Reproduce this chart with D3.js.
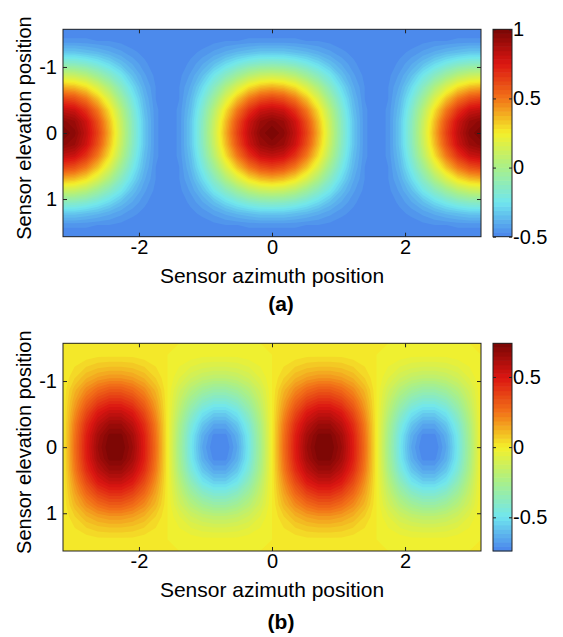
<!DOCTYPE html>
<html>
<head>
<meta charset="utf-8">
<script src="https://cdn.jsdelivr.net/npm/d3@7"></script>
<style>
  body { margin: 0; background: #fff; }
  svg { display: block; }
  text { font-family: "Liberation Sans", Arial, Helvetica, sans-serif; fill: #000; }
</style>
</head>
<body>
<svg id="chart" width="563" height="637"></svg>
<script>
// ---------------- DATA ----------------
// grid sample positions (degrees)
const azimuthDeg = [-180,-170,-160,-150,-140,-130,-120,-110,-100,-90,-80,-70,-60,-50,-40,-30,-20,-10,0,
                    10,20,30,40,50,60,70,80,90,100,110,120,130,140,150,160,170,180];
const elevationDeg = [-90,-80,-70,-60,-50,-40,-30,-20,-10,0,10,20,30,40,50,60,70,80,90];

const xTicks = [-2, 0, 2];
const yTicks = [-1, 0, 1];
const cbTicksA = [-0.5, 0, 0.5, 1];
const cbTicksB = [-0.5, 0, 0.5];
const cbDomainA = [-0.5, 1];
const cbDomainB = [-0.74, 0.74];
const panelLabels = ["(a)", "(b)"];
const xTitle = "Sensor azimuth position";
const yTitle = "Sensor elevation position";

// panel (a) values, rows = elevation (top -> bottom), columns = azimuth
const valuesA = [
[-.5,-.5,-.5,-.5,-.5,-.5,-.5,-.5,-.5,-.5,-.5,-.5,-.5,-.5,-.5,-.5,-.5,-.5,-.5,-.5,-.5,-.5,-.5,-.5,-.5,-.5,-.5,-.5,-.5,-.5,-.5,-.5,-.5,-.5,-.5,-.5,-.5],
[-.46,-.46,-.46,-.47,-.47,-.48,-.49,-.5,-.5,-.5,-.5,-.5,-.49,-.48,-.47,-.47,-.46,-.46,-.46,-.46,-.46,-.47,-.47,-.48,-.49,-.5,-.5,-.5,-.5,-.5,-.49,-.48,-.47,-.47,-.46,-.46,-.46],
[-.33,-.33,-.35,-.37,-.4,-.43,-.46,-.48,-.5,-.5,-.5,-.48,-.46,-.43,-.4,-.37,-.35,-.33,-.33,-.33,-.35,-.37,-.4,-.43,-.46,-.48,-.5,-.5,-.5,-.48,-.46,-.43,-.4,-.37,-.35,-.33,-.33],
[-.13,-.14,-.17,-.22,-.28,-.35,-.41,-.46,-.49,-.5,-.49,-.46,-.41,-.35,-.28,-.22,-.17,-.14,-.13,-.14,-.17,-.22,-.28,-.35,-.41,-.46,-.49,-.5,-.49,-.46,-.41,-.35,-.28,-.22,-.17,-.14,-.13],
[.12,.1,.05,-.04,-.14,-.24,-.35,-.43,-.48,-.5,-.48,-.43,-.35,-.24,-.14,-.04,.05,.1,.12,.1,.05,-.04,-.14,-.24,-.35,-.43,-.48,-.5,-.48,-.43,-.35,-.24,-.14,-.04,.05,.1,.12],
[.38,.35,.28,.16,.02,-.14,-.28,-.4,-.47,-.5,-.47,-.4,-.28,-.14,.02,.16,.28,.35,.38,.35,.28,.16,.02,-.14,-.28,-.4,-.47,-.5,-.47,-.4,-.28,-.14,.02,.16,.28,.35,.38],
[.63,.59,.49,.34,.16,-.04,-.22,-.37,-.47,-.5,-.47,-.37,-.22,-.04,.16,.34,.49,.59,.63,.59,.49,.34,.16,-.04,-.22,-.37,-.47,-.5,-.47,-.37,-.22,-.04,.16,.34,.49,.59,.63],
[.82,.79,.67,.49,.28,.05,-.17,-.35,-.46,-.5,-.46,-.35,-.17,.05,.28,.49,.67,.79,.82,.79,.67,.49,.28,.05,-.17,-.35,-.46,-.5,-.46,-.35,-.17,.05,.28,.49,.67,.79,.82],
[.95,.91,.79,.59,.35,.1,-.14,-.33,-.46,-.5,-.46,-.33,-.14,.1,.35,.59,.79,.91,.95,.91,.79,.59,.35,.1,-.14,-.33,-.46,-.5,-.46,-.33,-.14,.1,.35,.59,.79,.91,.95],
[1,.95,.82,.63,.38,.12,-.13,-.33,-.46,-.5,-.46,-.33,-.13,.12,.38,.63,.82,.95,1,.95,.82,.63,.38,.12,-.13,-.33,-.46,-.5,-.46,-.33,-.13,.12,.38,.63,.82,.95,1],
[.95,.91,.79,.59,.35,.1,-.14,-.33,-.46,-.5,-.46,-.33,-.14,.1,.35,.59,.79,.91,.95,.91,.79,.59,.35,.1,-.14,-.33,-.46,-.5,-.46,-.33,-.14,.1,.35,.59,.79,.91,.95],
[.82,.79,.67,.49,.28,.05,-.17,-.35,-.46,-.5,-.46,-.35,-.17,.05,.28,.49,.67,.79,.82,.79,.67,.49,.28,.05,-.17,-.35,-.46,-.5,-.46,-.35,-.17,.05,.28,.49,.67,.79,.82],
[.63,.59,.49,.34,.16,-.04,-.22,-.37,-.47,-.5,-.47,-.37,-.22,-.04,.16,.34,.49,.59,.63,.59,.49,.34,.16,-.04,-.22,-.37,-.47,-.5,-.47,-.37,-.22,-.04,.16,.34,.49,.59,.63],
[.38,.35,.28,.16,.02,-.14,-.28,-.4,-.47,-.5,-.47,-.4,-.28,-.14,.02,.16,.28,.35,.38,.35,.28,.16,.02,-.14,-.28,-.4,-.47,-.5,-.47,-.4,-.28,-.14,.02,.16,.28,.35,.38],
[.12,.1,.05,-.04,-.14,-.24,-.35,-.43,-.48,-.5,-.48,-.43,-.35,-.24,-.14,-.04,.05,.1,.12,.1,.05,-.04,-.14,-.24,-.35,-.43,-.48,-.5,-.48,-.43,-.35,-.24,-.14,-.04,.05,.1,.12],
[-.13,-.14,-.17,-.22,-.28,-.35,-.41,-.46,-.49,-.5,-.49,-.46,-.41,-.35,-.28,-.22,-.17,-.14,-.13,-.14,-.17,-.22,-.28,-.35,-.41,-.46,-.49,-.5,-.49,-.46,-.41,-.35,-.28,-.22,-.17,-.14,-.13],
[-.33,-.33,-.35,-.37,-.4,-.43,-.46,-.48,-.5,-.5,-.5,-.48,-.46,-.43,-.4,-.37,-.35,-.33,-.33,-.33,-.35,-.37,-.4,-.43,-.46,-.48,-.5,-.5,-.5,-.48,-.46,-.43,-.4,-.37,-.35,-.33,-.33],
[-.46,-.46,-.46,-.47,-.47,-.48,-.49,-.5,-.5,-.5,-.5,-.5,-.49,-.48,-.47,-.47,-.46,-.46,-.46,-.46,-.46,-.47,-.47,-.48,-.49,-.5,-.5,-.5,-.5,-.5,-.49,-.48,-.47,-.47,-.46,-.46,-.46],
[-.5,-.5,-.5,-.5,-.5,-.5,-.5,-.5,-.5,-.5,-.5,-.5,-.5,-.5,-.5,-.5,-.5,-.5,-.5,-.5,-.5,-.5,-.5,-.5,-.5,-.5,-.5,-.5,-.5,-.5,-.5,-.5,-.5,-.5,-.5,-.5,-.5]
];

// panel (b) values, rows = elevation (top -> bottom), columns = azimuth
const valuesB = [
[0,0,0,0,0,0,0,0,0,0,0,0,0,0,0,0,0,0,0,0,0,0,0,0,0,0,0,0,0,0,0,0,0,0,0,0,0],
[0,.01,.01,.02,.02,.02,.02,.01,.01,0,-.01,-.01,-.02,-.02,-.02,-.02,-.01,-.01,0,.01,.01,.02,.02,.02,.02,.01,.01,0,-.01,-.01,-.02,-.02,-.02,-.02,-.01,-.01,0],
[0,.03,.06,.08,.09,.09,.08,.06,.03,0,-.03,-.06,-.08,-.09,-.09,-.08,-.06,-.03,0,.03,.06,.08,.09,.09,.08,.06,.03,0,-.03,-.06,-.08,-.09,-.09,-.08,-.06,-.03,0],
[0,.06,.12,.16,.18,.18,.16,.12,.06,0,-.06,-.12,-.16,-.18,-.18,-.16,-.12,-.06,0,.06,.12,.16,.18,.18,.16,.12,.06,0,-.06,-.12,-.16,-.18,-.18,-.16,-.12,-.06,0],
[0,.11,.2,.27,.31,.31,.27,.2,.11,0,-.11,-.2,-.27,-.31,-.31,-.27,-.2,-.11,0,.11,.2,.27,.31,.31,.27,.2,.11,0,-.11,-.2,-.27,-.31,-.31,-.27,-.2,-.11,0],
[0,.15,.28,.38,.43,.43,.38,.28,.15,0,-.15,-.28,-.38,-.43,-.43,-.38,-.28,-.15,0,.15,.28,.38,.43,.43,.38,.28,.15,0,-.15,-.28,-.38,-.43,-.43,-.38,-.28,-.15,0],
[0,.19,.36,.49,.55,.55,.49,.36,.19,0,-.19,-.36,-.49,-.55,-.55,-.49,-.36,-.19,0,.19,.36,.49,.55,.55,.49,.36,.19,0,-.19,-.36,-.49,-.55,-.55,-.49,-.36,-.19,0],
[0,.23,.43,.57,.65,.65,.57,.43,.23,0,-.23,-.43,-.57,-.65,-.65,-.57,-.43,-.23,0,.23,.43,.57,.65,.65,.57,.43,.23,0,-.23,-.43,-.57,-.65,-.65,-.57,-.43,-.23,0],
[0,.25,.47,.63,.72,.72,.63,.47,.25,0,-.25,-.47,-.63,-.72,-.72,-.63,-.47,-.25,0,.25,.47,.63,.72,.72,.63,.47,.25,0,-.25,-.47,-.63,-.72,-.72,-.63,-.47,-.25,0],
[0,.26,.48,.65,.74,.74,.65,.48,.26,0,-.26,-.48,-.65,-.74,-.74,-.65,-.48,-.26,0,.26,.48,.65,.74,.74,.65,.48,.26,0,-.26,-.48,-.65,-.74,-.74,-.65,-.48,-.26,0],
[0,.25,.47,.63,.72,.72,.63,.47,.25,0,-.25,-.47,-.63,-.72,-.72,-.63,-.47,-.25,0,.25,.47,.63,.72,.72,.63,.47,.25,0,-.25,-.47,-.63,-.72,-.72,-.63,-.47,-.25,0],
[0,.23,.43,.57,.65,.65,.57,.43,.23,0,-.23,-.43,-.57,-.65,-.65,-.57,-.43,-.23,0,.23,.43,.57,.65,.65,.57,.43,.23,0,-.23,-.43,-.57,-.65,-.65,-.57,-.43,-.23,0],
[0,.19,.36,.49,.55,.55,.49,.36,.19,0,-.19,-.36,-.49,-.55,-.55,-.49,-.36,-.19,0,.19,.36,.49,.55,.55,.49,.36,.19,0,-.19,-.36,-.49,-.55,-.55,-.49,-.36,-.19,0],
[0,.15,.28,.38,.43,.43,.38,.28,.15,0,-.15,-.28,-.38,-.43,-.43,-.38,-.28,-.15,0,.15,.28,.38,.43,.43,.38,.28,.15,0,-.15,-.28,-.38,-.43,-.43,-.38,-.28,-.15,0],
[0,.11,.2,.27,.31,.31,.27,.2,.11,0,-.11,-.2,-.27,-.31,-.31,-.27,-.2,-.11,0,.11,.2,.27,.31,.31,.27,.2,.11,0,-.11,-.2,-.27,-.31,-.31,-.27,-.2,-.11,0],
[0,.06,.12,.16,.18,.18,.16,.12,.06,0,-.06,-.12,-.16,-.18,-.18,-.16,-.12,-.06,0,.06,.12,.16,.18,.18,.16,.12,.06,0,-.06,-.12,-.16,-.18,-.18,-.16,-.12,-.06,0],
[0,.03,.06,.08,.09,.09,.08,.06,.03,0,-.03,-.06,-.08,-.09,-.09,-.08,-.06,-.03,0,.03,.06,.08,.09,.09,.08,.06,.03,0,-.03,-.06,-.08,-.09,-.09,-.08,-.06,-.03,0],
[0,.01,.01,.02,.02,.02,.02,.01,.01,0,-.01,-.01,-.02,-.02,-.02,-.02,-.01,-.01,0,.01,.01,.02,.02,.02,.02,.01,.01,0,-.01,-.01,-.02,-.02,-.02,-.02,-.01,-.01,0],
[0,0,0,0,0,0,0,0,0,0,0,0,0,0,0,0,0,0,0,0,0,0,0,0,0,0,0,0,0,0,0,0,0,0,0,0,0]
];

// ---------------- STYLE ----------------
const cmapPos = [0, 1/6, 2/6, 3/6, 4/6, 5/6, 1];
const cmapColors = ["#4a84ec", "#70e6ee", "#a8f08a", "#f4f02a", "#f27418", "#dc1612", "#780604"];
const cmap = d3.scaleLinear().domain(cmapPos).range(cmapColors).interpolate(d3.interpolateRgb);
const nBands = 48;
const rad = Math.PI / 180;
const frameColor = "#222";

const layout = [
  { top: 29.3, bottom: 236.7, labelY: 311 },
  { top: 343.3, bottom: 551, labelY: 629 }
];
const plotLeft = 63, plotRight = 481, cbX0 = 493, cbX1 = 512;

const panels = [
  { values: valuesA, domain: cbDomainA, cbTicks: cbTicksA, label: panelLabels[0] },
  { values: valuesB, domain: cbDomainB, cbTicks: cbTicksB, label: panelLabels[1] }
];

const svg = d3.select("#chart");
const defs = svg.append("defs");

panels.forEach((p, idx) => {
  const L = layout[idx];
  const g = svg.append("g");
  const n = azimuthDeg.length, m = elevationDeg.length;
  const x = d3.scaleLinear()
    .domain([azimuthDeg[0] * rad, azimuthDeg[n - 1] * rad])
    .range([plotLeft, plotRight]);
  const y = d3.scaleLinear()
    .domain([elevationDeg[0] * rad, elevationDeg[m - 1] * rad])
    .range([L.top, L.bottom]);
  // grid-index scales (d3.contours puts sample i at i+0.5)
  const gx = d3.scaleLinear().domain([0.5, n - 0.5]).range([x(azimuthDeg[0] * rad), x(azimuthDeg[n - 1] * rad)]);
  const gy = d3.scaleLinear().domain([0.5, m - 0.5]).range([y(elevationDeg[0] * rad), y(elevationDeg[m - 1] * rad)]);

  const step = (p.domain[1] - p.domain[0]) / nBands;
  const thresholds = d3.range(nBands).map(i => p.domain[0] + i * step);
  const bandColor = i => cmap((i + 0.5) / nBands);

  const clipId = "clip" + idx;
  defs.append("clipPath").attr("id", clipId)
    .append("rect")
    .attr("x", plotLeft).attr("y", L.top)
    .attr("width", plotRight - plotLeft).attr("height", L.bottom - L.top);

  const plot = g.append("g").attr("clip-path", `url(#${clipId})`);
  plot.append("rect")
    .attr("x", plotLeft).attr("y", L.top)
    .attr("width", plotRight - plotLeft).attr("height", L.bottom - L.top)
    .attr("fill", bandColor(0));

  const contours = d3.contours().size([n, m]).thresholds(thresholds)(p.values.flat());
  const path = d3.geoPath(d3.geoTransform({
    point(px, py) { this.stream.point(gx(px), gy(py)); }
  }));
  plot.selectAll("path.band").data(contours).join("path")
    .attr("class", "band")
    .attr("d", path)
    .attr("fill", (d, i) => bandColor(i));

  // axes (ticks pointing inward, MATLAB style)
  const fmt = d => String(d);
  const styleAxis = sel => {
    sel.select(".domain").remove();
    sel.selectAll(".tick line").attr("stroke", frameColor);
    sel.selectAll(".tick text").attr("font-size", 20).attr("fill", "#000")
      .attr("font-family", "Liberation Sans, Arial, sans-serif");
  };
  g.append("g").attr("transform", `translate(0,${L.bottom})`)
    .call(d3.axisBottom(x).tickValues(xTicks).tickSize(-4).tickPadding(3).tickFormat(fmt))
    .call(styleAxis);
  g.append("g").attr("transform", `translate(0,${L.top})`)
    .call(d3.axisTop(x).tickValues(xTicks).tickSize(-4).tickFormat(""))
    .call(styleAxis);
  g.append("g").attr("transform", `translate(${plotLeft},0)`)
    .call(d3.axisLeft(y).tickValues(yTicks).tickSize(-4).tickPadding(6).tickFormat(fmt))
    .call(styleAxis);
  g.append("g").attr("transform", `translate(${plotRight},0)`)
    .call(d3.axisRight(y).tickValues(yTicks).tickSize(-4).tickFormat(""))
    .call(styleAxis);

  g.append("rect")
    .attr("x", plotLeft).attr("y", L.top)
    .attr("width", plotRight - plotLeft).attr("height", L.bottom - L.top)
    .attr("fill", "none").attr("stroke", frameColor).attr("stroke-width", 1);

  // axis titles
  g.append("text")
    .attr("x", (plotLeft + plotRight) / 2).attr("y", L.bottom + 46)
    .attr("text-anchor", "middle").attr("font-size", 21)
    .text(xTitle);
  g.append("text")
    .attr("transform", `translate(31,${(L.top + L.bottom) / 2 - 5}) rotate(-90)`)
    .attr("text-anchor", "middle").attr("font-size", 20)
    .text(yTitle);

  // panel label
  g.append("text")
    .attr("x", 281).attr("y", L.labelY)
    .attr("text-anchor", "middle")
    .attr("font-family", "Liberation Serif, Times New Roman, serif")
    .attr("font-weight", "bold").attr("font-size", 21)
    .text(p.label);

  // colorbar
  const cy = d3.scaleLinear().domain(p.domain).range([L.bottom, L.top]);
  g.selectAll("rect.cb").data(d3.range(nBands)).join("rect")
    .attr("class", "cb")
    .attr("x", cbX0).attr("width", cbX1 - cbX0)
    .attr("y", i => cy(thresholds[i] + step) - 0.3)
    .attr("height", i => cy(thresholds[i]) - cy(thresholds[i] + step) + 0.6)
    .attr("fill", i => bandColor(i));
  g.append("rect")
    .attr("x", cbX0).attr("y", L.top)
    .attr("width", cbX1 - cbX0).attr("height", L.bottom - L.top)
    .attr("fill", "none").attr("stroke", frameColor).attr("stroke-width", 1);
  const cbAxis = g.append("g").attr("transform", `translate(${cbX1},0)`)
    .call(d3.axisRight(cy).tickValues(p.cbTicks).tickSize(-3).tickPadding(3).tickFormat(fmt))
    .call(styleAxis);
  cbAxis.selectAll(".tick text").attr("x", 1);
  g.append("g").attr("transform", `translate(${cbX0},0)`)
    .call(d3.axisLeft(cy).tickValues(p.cbTicks).tickSize(-3).tickFormat(""))
    .call(styleAxis);
});
</script>
</body>
</html>
